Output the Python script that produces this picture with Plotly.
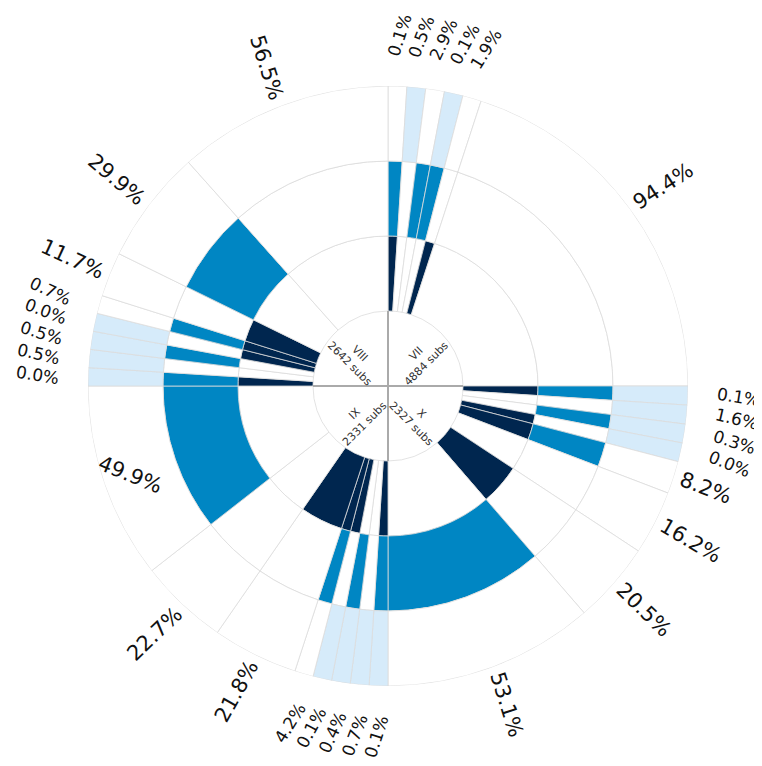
import math
import plotly.graph_objects as go

# ---------------- data ----------------
quadrant_names = ["VII", "X", "IX", "VIII"]          # clockwise from north
quadrant_subs = [4884, 2327, 2331, 2642]

pct_VII = [0.1, 0.5, 2.9, 0.1, 1.9, 94.4]
inner_VII = [1, 0, 0, 0, 1, 0]
middle_VII = [1, 0, 1, 1, 0, 0]
outer_VII = [0, 1, 0, 1, 0, 0]

pct_X = [0.1, 1.6, 0.3, 0.0, 8.2, 16.2, 20.5, 53.1]
inner_X = [1, 0, 0, 1, 1, 0, 1, 0]
middle_X = [1, 0, 1, 0, 1, 0, 0, 1]
outer_X = [1, 1, 1, 1, 0, 0, 0, 0]

pct_IX = [0.1, 0.7, 0.4, 0.1, 4.2, 21.8, 22.7, 49.9]
inner_IX = [1, 0, 0, 1, 1, 1, 0, 0]
middle_IX = [1, 0, 1, 0, 1, 0, 0, 1]
outer_IX = [1, 1, 1, 1, 0, 0, 0, 0]

pct_VIII = [0.0, 0.5, 0.5, 0.0, 0.7, 11.7, 29.9, 56.5]
inner_VIII = [1, 0, 0, 1, 1, 1, 0, 0]
middle_VIII = [1, 0, 1, 0, 1, 0, 1, 0]
outer_VIII = [1, 1, 1, 1, 0, 0, 0, 0]

pcts = [pct_VII, pct_X, pct_IX, pct_VIII]
rings = [
    [inner_VII, inner_X, inner_IX, inner_VIII],
    [middle_VII, middle_X, middle_IX, middle_VIII],
    [outer_VII, outer_X, outer_IX, outer_VIII],
]

# ---------------- style / geometry ----------------
# the page body has an 8px margin, so the figure is drawn 8px in from the corner
W, H = 754, 758
CX, CY, R = 380, 378, 300
HOLE, RING = 75, 75
MIN_PCT = 4.75
RING_COLORS = ["#00264f", "#0086c3", "#d6ebfa"]
LINE_COLOR = "#dcdcdc"
FONT = "DejaVu Sans"
# (quadrant, sector) -> (label radius, text angle) where the reference places a label inside
LABEL_OVERRIDES = {(2, 7): (272, 22)}


def sectors(p, start):
    eff = [max(v, MIN_PCT) for v in p]
    tot = sum(eff)
    widths = [e / tot * 90.0 for e in eff]
    centers, a = [], start
    for w in widths:
        centers.append(a + w / 2)
        a += w
    return centers, widths


geo = [sectors(p, 90 * q) for q, p in enumerate(pcts)]

fig = go.Figure()

for k in range(3):
    th, wd, col = [], [], []
    for q in range(4):
        c, w = geo[q]
        th += c
        wd += w
        col += [RING_COLORS[k] if f else "white" for f in rings[k][q]]
    fig.add_trace(go.Barpolar(
        theta=th, width=wd, r=[RING] * len(th), base=[HOLE + k * RING] * len(th),
        marker=dict(color=col, line=dict(color=LINE_COLOR, width=0.8)),
        hoverinfo="skip", showlegend=False,
    ))

# cross in the hole
for t in [0, 90, 180, 270]:
    fig.add_trace(go.Scatterpolar(
        r=[0, HOLE], theta=[t, t], mode="lines",
        line=dict(color="#aaaaaa", width=2), hoverinfo="skip", showlegend=False))


def to_paper(r, th):
    x = CX + r * math.sin(math.radians(th))
    y = CY - r * math.cos(math.radians(th))
    return x / W, 1 - y / H


def text_len(s, size):
    wmap = {".": 0.318, "%": 0.95}
    return size * sum(wmap.get(ch, 0.636) for ch in s)


annotations = []
for q in range(4):
    c, w = geo[q]
    for i, (p, th) in enumerate(zip(pcts[q], c)):
        big = p >= 5
        size = 21 if big else 17
        txt = f"{p:.1f}%"
        L = text_len(txt, size)
        r0 = 307 if big else 329
        rc = r0 + L / 2
        ang = th - 90 if th < 180 else th - 270
        if big:
            ang += 3
        else:
            ang += 7 + 9 * abs(math.cos(math.radians(th)))
        if (q, i) in LABEL_OVERRIDES:
            rc, ang = LABEL_OVERRIDES[(q, i)]
        x, y = to_paper(rc, th)
        annotations.append(dict(
            x=x, y=y, xref="paper", yref="paper", text=txt, showarrow=False,
            textangle=ang, xanchor="center", yanchor="middle",
            font=dict(family=FONT, size=size, color="#111111")))

center_angles = [51, 139, 221, 309]
center_rot = [-45, 45, -45, 45]
for name, subs, th, rot in zip(quadrant_names, quadrant_subs, center_angles, center_rot):
    x, y = to_paper(43, th)
    annotations.append(dict(
        x=x, y=y, xref="paper", yref="paper", text=f"{name}<br>{subs} subs",
        showarrow=False, textangle=rot, xanchor="center", yanchor="middle",
        font=dict(family=FONT, size=11, color="#333333")))

fig.update_layout(
    width=W, height=H, margin=dict(l=0, r=0, t=0, b=0),
    paper_bgcolor="white", plot_bgcolor="white",
    polar=dict(
        domain=dict(x=[(CX - R) / W, (CX + R) / W], y=[1 - (CY + R) / H, 1 - (CY - R) / H]),
        bgcolor="white", hole=0,
        radialaxis=dict(range=[0, R], visible=False),
        angularaxis=dict(rotation=90, direction="clockwise", visible=False),
        barmode="overlay",
    ),
    annotations=annotations,
)

fig.write_html("out.html")
